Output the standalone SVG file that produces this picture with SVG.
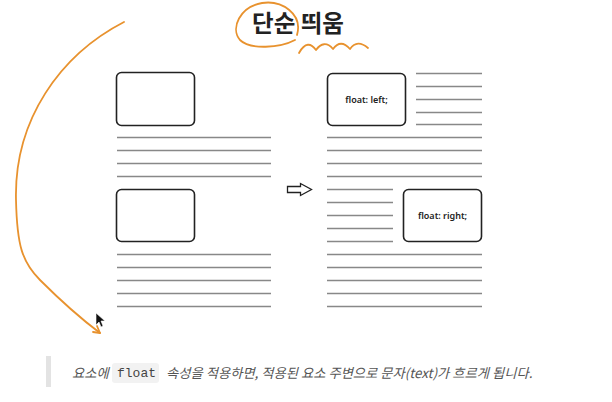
<svg xmlns="http://www.w3.org/2000/svg" width="612" height="402" viewBox="0 0 612 402">
<defs>
<style>
.box{fill:#fff;stroke:#222;stroke-width:1.6}
.ln{stroke:#888;stroke-width:1.3}
.lbl{font-family:"Noto Sans","Noto Sans CJK KR",sans-serif;font-size:9px;font-weight:600;fill:#222;text-anchor:middle}
.hand{fill:none;stroke:#E8922E;stroke-width:1.8;stroke-linecap:round;stroke-linejoin:round}
.cap{font-family:"Noto Sans CJK KR","Noto Sans",sans-serif;font-size:13.3px;font-style:italic;fill:#555}
</style>
</defs>
<rect width="612" height="402" fill="#fff"/>
<text x="298" y="32" font-family="Noto Sans CJK KR, sans-serif" font-size="23.5" font-weight="700" fill="#222" text-anchor="middle">단순 띄움</text>
<g id="annotations">
<path class="hand" d="M297 35 C303 14 282 0 262 3 C240 7 230 28 240 40 C250 50 280 48 295 40"/>
<path class="hand" d="M299 53 C305 42 311 43 316 50 C321 43 327 42 333 49 C338 42 344 42 350 49 C355 42 361 42 368 48"/>
<path class="hand" d="M124 22 C60 55 14 120 16 200 C17 245 22 262 40 280 C60 300 80 318 100 333"/>
<path class="hand" d="M93 332 L100 333 L97 326"/>
<path d="M96 313 L96 325 L99 322 L101 327 L103 326 L101 321 L105 321 Z" fill="#111" stroke="#fff" stroke-width="0.6"/>
</g>
<g id="left-top">
<rect class="box" x="116.5" y="72.5" width="78" height="53" rx="5"/>
</g>
<g id="left-top-lines">
<line class="ln" x1="117" y1="137.5" x2="271" y2="137.5"/>
<line class="ln" x1="117" y1="150.5" x2="271" y2="150.5"/>
<line class="ln" x1="117" y1="163.5" x2="271" y2="163.5"/>
<line class="ln" x1="117" y1="176.5" x2="271" y2="176.5"/>
</g>
<g id="left-bottom">
<rect class="box" x="116.5" y="189.5" width="78" height="52" rx="5"/>
</g>
<g id="left-bottom-lines">
<line class="ln" x1="117" y1="254.5" x2="271" y2="254.5"/>
<line class="ln" x1="117" y1="267.5" x2="271" y2="267.5"/>
<line class="ln" x1="117" y1="280.5" x2="271" y2="280.5"/>
<line class="ln" x1="117" y1="293.5" x2="271" y2="293.5"/>
<line class="ln" x1="117" y1="306.5" x2="271" y2="306.5"/>
</g>
<g id="connectors">
<path d="M287.5 186.5 L300.5 186.5 L300.5 183.5 L311.5 189.5 L300.5 195.5 L300.5 192.5 L287.5 192.5 Z" fill="#fff" stroke="#222" stroke-width="1.3"/>
</g>
<g id="right-top">
<rect class="box" x="327.5" y="73.5" width="78" height="52" rx="5"/>
<text class="lbl" x="366.5" y="102.5">float: left;</text>
</g>
<g id="right-top-lines">
<line class="ln" x1="416" y1="73.5" x2="482" y2="73.5"/>
<line class="ln" x1="416" y1="86.5" x2="482" y2="86.5"/>
<line class="ln" x1="416" y1="99.5" x2="482" y2="99.5"/>
<line class="ln" x1="416" y1="112.5" x2="482" y2="112.5"/>
<line class="ln" x1="416" y1="124.5" x2="482" y2="124.5"/>
<line class="ln" x1="327" y1="137.5" x2="482" y2="137.5"/>
<line class="ln" x1="327" y1="150.5" x2="482" y2="150.5"/>
<line class="ln" x1="327" y1="163.5" x2="482" y2="163.5"/>
<line class="ln" x1="327" y1="176.5" x2="482" y2="176.5"/>
</g>
<g id="right-bottom">
<rect class="box" x="403.5" y="189.5" width="78" height="52" rx="5"/>
<text class="lbl" x="442.5" y="218.5">float: right;</text>
</g>
<g id="right-bottom-lines">
<line class="ln" x1="327" y1="189.5" x2="393" y2="189.5"/>
<line class="ln" x1="327" y1="202.5" x2="393" y2="202.5"/>
<line class="ln" x1="327" y1="215.5" x2="393" y2="215.5"/>
<line class="ln" x1="327" y1="228.5" x2="393" y2="228.5"/>
<line class="ln" x1="327" y1="241.5" x2="393" y2="241.5"/>
<line class="ln" x1="327" y1="254.5" x2="482" y2="254.5"/>
<line class="ln" x1="327" y1="267.5" x2="482" y2="267.5"/>
<line class="ln" x1="327" y1="280.5" x2="482" y2="280.5"/>
<line class="ln" x1="327" y1="293.5" x2="482" y2="293.5"/>
<line class="ln" x1="327" y1="306.5" x2="482" y2="306.5"/>
</g>
<g id="caption">
<rect x="46" y="356" width="5" height="31" fill="#e3e3e3"/>
<rect x="112" y="363" width="47" height="20" rx="3" fill="#f2f2f2"/>
<text class="cap" x="72" y="378">요소에</text>
<text x="117" y="377" font-family="Liberation Mono, monospace" font-size="13" fill="#444">float</text>
<text class="cap" x="166" y="378">속성을 적용하면, 적용된 요소 주변으로 문자(text)가 흐르게 됩니다.</text>
</g>
</svg>
